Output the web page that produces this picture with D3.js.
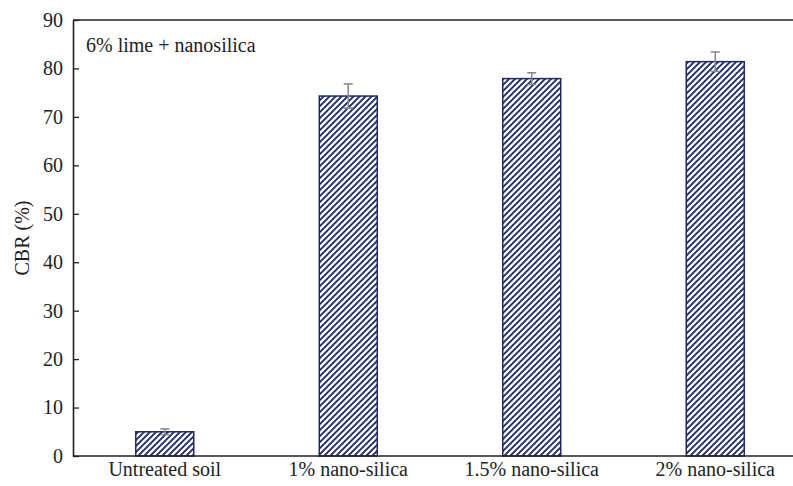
<!DOCTYPE html>
<html>
<head>
<meta charset="utf-8">
<script src="https://cdn.jsdelivr.net/npm/d3@7"></script>
<style>
  html, body { margin: 0; padding: 0; background: #fff; }
  svg { display: block; font-family: "Liberation Serif", "DejaVu Serif", serif; }
</style>
</head>
<body>
<script>
// CBR of treated soil samples
const categories = ["Untreated soil", "1% nano-silica", "1.5% nano-silica", "2% nano-silica"];
const cbrValues = [5.0, 74.3, 77.9, 81.4];
const cbrErrors = [0.6, 2.5, 1.2, 2.0];
const yTicks = [0, 10, 20, 30, 40, 50, 60, 70, 80, 90];
const annotation = "6% lime + nanosilica";
const yTitle = "CBR (%)";

const W = 793, H = 486;
const margin = { top: 20, right: -14, bottom: 30, left: 73 };
const FONT = "Liberation Serif, DejaVu Serif, serif";
const FS = 20;

const svg = d3.select("body").append("svg")
  .attr("width", W).attr("height", H);

const defs = svg.append("defs");
const pat = defs.append("pattern")
  .attr("id", "hatch")
  .attr("patternUnits", "userSpaceOnUse")
  .attr("width", 6).attr("height", 6);
pat.append("rect").attr("width", 6).attr("height", 6).attr("fill", "#fff");
pat.append("path")
  .attr("d", "M-1,1 l2,-2 M0,6 l6,-6 M5,7 l2,-2")
  .attr("stroke", "#1c2a6b").attr("stroke-width", 1.9);

const x = d3.scaleBand()
  .domain(categories)
  .range([margin.left, W - margin.right])
  .paddingInner(0.684).paddingOuter(0.342);

const y = d3.scaleLinear()
  .domain([0, 90])
  .range([H - margin.bottom, margin.top]);

// bars
svg.append("g").selectAll("rect")
  .data(categories)
  .join("rect")
  .attr("x", d => x(d))
  .attr("width", x.bandwidth())
  .attr("y", (d, i) => y(cbrValues[i]))
  .attr("height", (d, i) => y(0) - y(cbrValues[i]))
  .attr("fill", "url(#hatch)")
  .attr("stroke", "#1c2a6b")
  .attr("stroke-width", 1.5);

// error bars
const eg = svg.append("g").attr("stroke", "#8a8a8a").attr("stroke-width", 1.6);
categories.forEach((c, i) => {
  const cx = x(c) + x.bandwidth() / 2;
  const hi = y(cbrValues[i] + cbrErrors[i]);
  const lo = y(cbrValues[i] - cbrErrors[i]);
  eg.append("line").attr("x1", cx).attr("x2", cx).attr("y1", hi).attr("y2", lo);
  eg.append("line").attr("x1", cx - 4.5).attr("x2", cx + 4.5).attr("y1", hi).attr("y2", hi);
  eg.append("line").attr("x1", cx - 4.5).attr("x2", cx + 4.5).attr("y1", lo).attr("y2", lo);
});

// y axis with inward ticks
const yAxis = svg.append("g")
  .attr("transform", `translate(${margin.left},0)`)
  .call(d3.axisLeft(y).tickValues(yTicks).tickSizeInner(-6).tickSizeOuter(0).tickPadding(10));
yAxis.select(".domain").attr("stroke", "#222").attr("stroke-width", 1.6);
yAxis.selectAll(".tick line").attr("stroke", "#222").attr("stroke-width", 1.3);
yAxis.selectAll(".tick text")
  .attr("font-size", FS).attr("fill", "#222")
  .attr("font-family", FONT);

// x axis
const xAxis = svg.append("g")
  .attr("transform", `translate(0,${y(0)})`)
  .call(d3.axisBottom(x).tickSize(0).tickPadding(6));
xAxis.select(".domain").attr("d", `M${margin.left},0H${W + 20}`)
  .attr("stroke", "#222").attr("stroke-width", 1.6);
xAxis.selectAll(".tick text")
  .attr("font-size", FS).attr("fill", "#222")
  .attr("font-family", FONT);

// top frame line
svg.append("line")
  .attr("x1", margin.left).attr("x2", W + 20)
  .attr("y1", y(90)).attr("y2", y(90))
  .attr("stroke", "#222").attr("stroke-width", 1.6);

// annotation
svg.append("text")
  .attr("x", 86).attr("y", 52)
  .attr("font-size", FS).attr("fill", "#222")
  .text(annotation);

// y title
svg.append("text")
  .attr("transform", `translate(29,${(y(0) + y(90)) / 2}) rotate(-90)`)
  .attr("text-anchor", "middle")
  .attr("font-size", FS).attr("fill", "#222")
  .text(yTitle);
</script>
</body>
</html>
